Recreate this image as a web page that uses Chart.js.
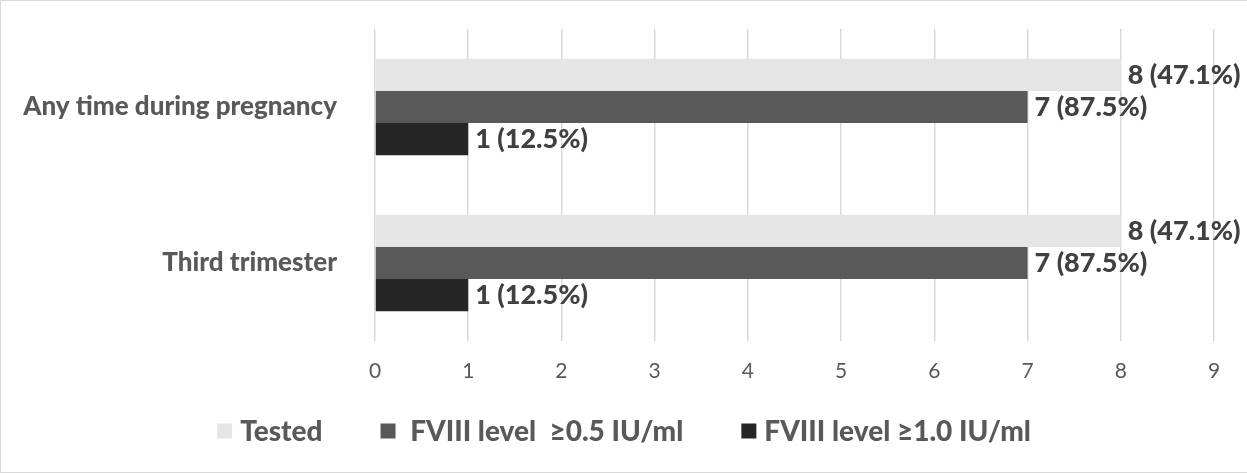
<!DOCTYPE html>
<html>
<head>
<meta charset="utf-8">
<script src="https://cdn.jsdelivr.net/npm/chart.js@4"></script>
<style>
  html, body { margin: 0; padding: 0; background: #fff; }
  #frame {
    position: absolute; left: 0; top: 0;
    width: 1247px; height: 473px;
    box-sizing: border-box;
    border-left: 1px solid #d9d9d9;
    border-top: 1px solid #d9d9d9;
    border-bottom: 1px solid #d9d9d9;
  }
  #wrap { position: absolute; left: 0; top: 0; width: 1246px; height: 471px; }
</style>
</head>
<body>
<div id="frame"><div id="wrap"><canvas id="c"></canvas></div></div>
<script>
// Categories (top to bottom)
const categories = ['Any time during pregnancy', 'Third trimester'];

// Counts per series
const testedCounts = [8, 8];
const fviii05Counts = [7, 7];
const fviii10Counts = [1, 1];

// Percentages shown next to each count
const testedPct = [47.1, 47.1];
const fviii05Pct = [87.5, 87.5];
const fviii10Pct = [12.5, 12.5];

// Series names
const seriesNames = ['Tested', ' FVIII level  \u22650.5 IU/ml', 'FVIII level \u22651.0 IU/ml'];
const seriesColors = ['#e5e5e5', '#595959', '#262626'];

// Axis ticks
const xTicks = [0, 1, 2, 3, 4, 5, 6, 7, 8, 9];

const FONT = "Lato, 'Open Sans', 'DejaVu Sans', sans-serif";
const TEXT = '#595959';
const BOLD = '900';

const pctBySeries = [testedPct, fviii05Pct, fviii10Pct];

// Count + percentage printed at the end of each bar
const valueLabels = {
  id: 'valueLabels',
  afterDatasetsDraw(chart) {
    const ctx = chart.ctx;
    ctx.save();
    ctx.font = `${BOLD} 27px ${FONT}`;
    ctx.fillStyle = '#404040';
    ctx.textBaseline = 'middle';
    ctx.textAlign = 'left';
    chart.data.datasets.forEach((ds, di) => {
      const meta = chart.getDatasetMeta(di);
      meta.data.forEach((bar, i) => {
        const txt = `${ds.data[i]} (${pctBySeries[di][i]}%)`;
        ctx.fillText(txt, bar.x + 7, bar.y);
      });
    });
    ctx.restore();
  }
};

// Horizontal legend row below the axis
const legendRow = {
  id: 'legendRow',
  afterDraw(chart) {
    const ctx = chart.ctx;
    const box = 15, gapText = 8, gapItem = 58;
    ctx.save();
    ctx.font = `${BOLD} 28px ${FONT}`;
    ctx.textBaseline = 'middle';
    ctx.textAlign = 'left';
    const items = chart.data.datasets.map(ds => ({
      text: ds.label, color: ds.backgroundColor, w: ctx.measureText(ds.label).width
    }));
    const total = items.reduce((s, it) => s + box + gapText + it.w, 0) + gapItem * (items.length - 1);
    let x = (chart.width - total) / 2;
    const y = 430;
    items.forEach(it => {
      ctx.fillStyle = it.color;
      ctx.fillRect(x, y - box / 2, box, box);
      ctx.fillStyle = TEXT;
      ctx.fillText(it.text, x + box + gapText, y + 1);
      x += box + gapText + it.w + gapItem;
    });
    ctx.restore();
  }
};

new Chart(document.getElementById('c'), {
  type: 'bar',
  data: {
    labels: categories,
    datasets: seriesNames.map((name, i) => ({
      label: name,
      data: [testedCounts, fviii05Counts, fviii10Counts][i],
      backgroundColor: seriesColors[i]
    }))
  },
  options: {
    indexAxis: 'y',
    responsive: true,
    maintainAspectRatio: false,
    animation: false,
    layout: { padding: { left: 0, right: 33, top: 28, bottom: 71 } },
    datasets: { bar: { barPercentage: 1.0, categoryPercentage: 0.617 } },
    scales: {
      x: {
        min: 0, max: 9,
        afterBuildTicks(scale) { scale.ticks = xTicks.map(v => ({ value: v })); },
        grid: { color: '#d9d9d9', lineWidth: 1.5, drawTicks: false },
        border: { display: false },
        ticks: { color: TEXT, font: { family: FONT, size: 21 }, padding: 18 },
        afterFit(scale) { scale.height = 60; }
      },
      y: {
        grid: { display: false },
        border: { display: false },
        ticks: { color: TEXT, font: { family: FONT, size: 26, weight: BOLD }, padding: 30 },
        afterFit(scale) {
          scale.width = 374;
          scale.paddingTop = 0;
          scale.paddingBottom = 0;
        }
      }
    },
    plugins: {
      legend: { display: false },
      tooltip: { enabled: false }
    }
  },
  plugins: [valueLabels, legendRow]
});
</script>
</body>
</html>
